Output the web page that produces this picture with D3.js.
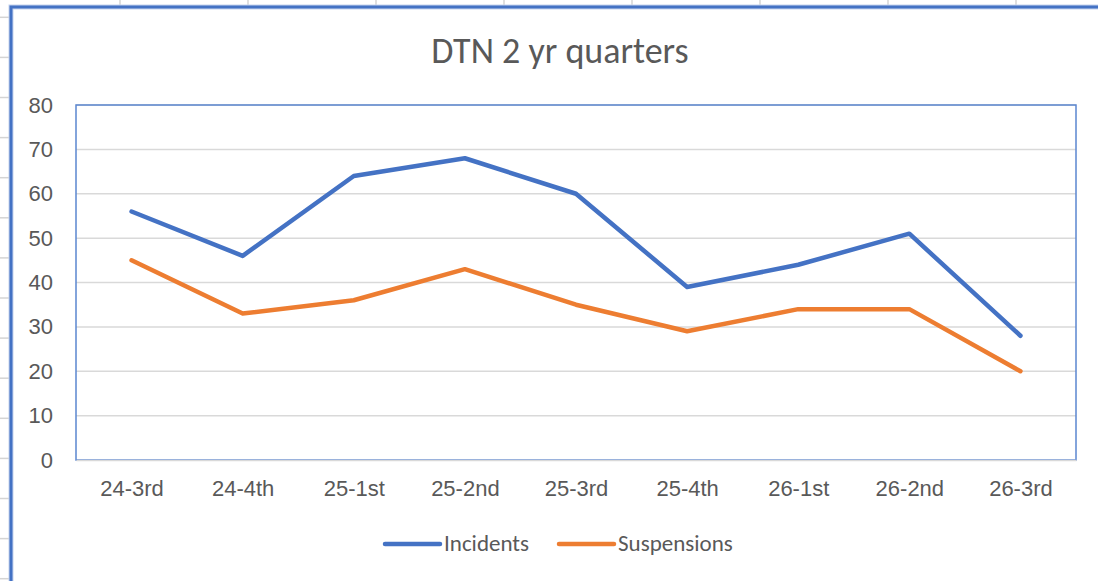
<!DOCTYPE html>
<html>
<head>
<meta charset="utf-8">
<script src="https://cdn.jsdelivr.net/npm/d3@7"></script>
<style>
  body { margin: 0; background: #fff; }
  svg { display: block; font-family: Carlito, "Liberation Sans", Arial, sans-serif; }
</style>
</head>
<body>
<svg width="1098" height="581"></svg>
<script>
var quarters = ["24-3rd", "24-4th", "25-1st", "25-2nd", "25-3rd", "25-4th", "26-1st", "26-2nd", "26-3rd"];
var incidents = [56, 46, 64, 68, 60, 39, 44, 51, 28];
var suspensions = [45, 33, 36, 43, 35, 29, 34, 34, 20];
var yTicks = [0, 10, 20, 30, 40, 50, 60, 70, 80];
var seriesNames = ["Incidents", "Suspensions"];
var colors = ["#4472C4", "#ED7D31"];

var svg = d3.select("svg");
var textColor = "#595959";

// spreadsheet cells peeking out behind the chart
var bg = svg.append("g").attr("stroke", "#d4d4d4").attr("stroke-width", 1.5);
for (var cx = 120; cx < 1098; cx += 128) {
    bg.append("line").attr("x1", cx).attr("x2", cx).attr("y1", 0).attr("y2", 6);
}
for (var cy = 17.3; cy < 581; cy += 40.1) {
    bg.append("line").attr("x1", 0).attr("x2", 9).attr("y1", cy).attr("y2", cy);
}

// selected chart frame
svg.append("path")
    .attr("d", "M11,581 L11,7 L1098,7")
    .attr("fill", "none")
    .attr("stroke", "#c5d3ee")
    .attr("stroke-width", 5);
svg.append("path")
    .attr("d", "M11,581 L11,7 L1098,7")
    .attr("fill", "none")
    .attr("stroke", "#4472C4")
    .attr("stroke-width", 3);

var plotLeft = 76, plotRight = 1076, plotTop = 105, plotBottom = 460;

var x = d3.scalePoint()
    .domain(quarters)
    .range([plotLeft, plotRight])
    .padding(0.5);

var y = d3.scaleLinear()
    .domain([0, 80])
    .range([plotBottom, plotTop]);

//////////// gridlines ////////////
svg.append("g")
    .selectAll("line")
    .data(yTicks.filter(function(d) { return d > 0; }))
    .enter().append("line")
    .attr("x1", plotLeft).attr("x2", plotRight)
    .attr("y1", function(d) { return y(d); })
    .attr("y2", function(d) { return y(d); })
    .attr("stroke", "#d9d9d9")
    .attr("stroke-width", 1.5);

// plot area border
svg.append("rect")
    .attr("x", plotLeft).attr("y", plotTop)
    .attr("width", plotRight - plotLeft).attr("height", plotBottom - plotTop)
    .attr("fill", "none")
    .attr("stroke", "#5b86d0")
    .attr("stroke-width", 1.5);

//////////// axes ////////////
var yAxis = d3.axisLeft(y).tickValues(yTicks).tickSize(0).tickPadding(23);
svg.append("g")
    .attr("class", "yaxis")
    .attr("transform", "translate(" + plotLeft + ",0)")
    .call(yAxis)
    .call(function(g) { g.select(".domain").remove(); })
    .selectAll("text")
    .attr("fill", textColor)
    .attr("font-size", "22px")
    .attr("font-family", null);

var xAxis = d3.axisBottom(x).tickSize(0).tickPadding(20);
svg.append("g")
    .attr("class", "xaxis")
    .attr("transform", "translate(0," + plotBottom + ")")
    .call(xAxis)
    .call(function(g) {
        g.select(".domain").attr("stroke", "#d9d9d9").attr("stroke-width", 1.5);
    })
    .selectAll("text")
    .attr("fill", textColor)
    .attr("font-size", "22px")
    .attr("font-family", null);

//////////// lines ////////////
var line = d3.line()
    .x(function(d, i) { return x(quarters[i]); })
    .y(function(d) { return y(d); });

[incidents, suspensions].forEach(function(vals, i) {
    svg.append("path")
        .datum(vals)
        .attr("d", line)
        .attr("fill", "none")
        .attr("stroke", colors[i])
        .attr("stroke-width", 4.5)
        .attr("stroke-linejoin", "round")
        .attr("stroke-linecap", "round");
});

//////////// title ////////////
svg.append("text")
    .attr("x", 560)
    .attr("y", 63)
    .attr("text-anchor", "middle")
    .attr("fill", textColor)
    .attr("font-size", "36px")
    .text("DTN 2 yr quarters");

//////////// legend ////////////
var legendX = [385, 559];
var legend = svg.append("g");
seriesNames.forEach(function(name, i) {
    legend.append("line")
        .attr("x1", legendX[i]).attr("x2", legendX[i] + 55)
        .attr("y1", 544).attr("y2", 544)
        .attr("stroke", colors[i])
        .attr("stroke-width", 4.5)
        .attr("stroke-linecap", "round");
    legend.append("text")
        .attr("x", legendX[i] + 59)
        .attr("y", 551)
        .attr("fill", textColor)
        .attr("font-size", "23px")
        .text(name);
});
</script>
</body>
</html>
